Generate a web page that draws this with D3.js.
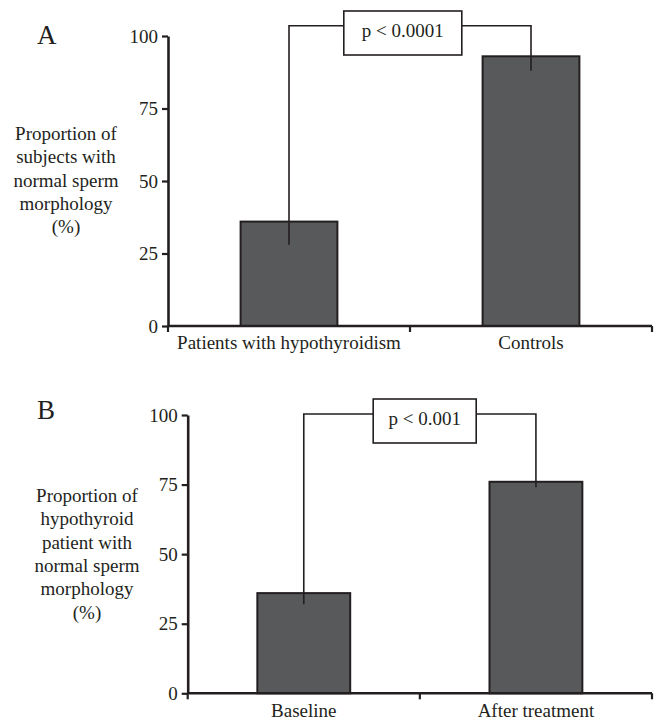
<!DOCTYPE html>
<html>
<head>
<meta charset="utf-8">
<script src="https://cdn.jsdelivr.net/npm/d3@7"></script>
<style>
  body { margin: 0; background: #fff; }
  text { font-family: "Liberation Serif", "Times New Roman", serif; fill: #231f20; }
</style>
</head>
<body>
<div id="chart"></div>
<script>
// Panel A data
var labelsA = ["Patients with hypothyroidism", "Controls"];
var valuesA = [36, 93];
var lowerA = [28, 88];
var pTextA = "p < 0.0001";
var titleA = ["Proportion of", "subjects with", "normal sperm", "morphology", "(%)"];

// Panel B data
var labelsB = ["Baseline", "After treatment"];
var valuesB = [36, 76];
var lowerB = [32, 74];
var pTextB = "p < 0.001";
var titleB = ["Proportion of", "hypothyroid", "patient with", "normal sperm", "morphology", "(%)"];

var yTicks = [0, 25, 50, 75, 100];

var width = 656;
var height = 725;
var barFill = "#58595b";
var ink = "#231f20";

var svg = d3.select("#chart")
  .append("svg")
  .attr("width", width)
  .attr("height", height);

// layout for each panel (pixel positions only)
var panels = [
  { letter: "A", labels: labelsA, values: valuesA, lower: lowerA, pText: pTextA, title: titleA,
    left: 168, right: 652, top: 36, bottom: 326, letterY: 44, titleX: 66, titleY: 140,
    bracketY: 25.7, boxX: 402.8, boxY: 11, boxW: 118, boxH: 44 },
  { letter: "B", labels: labelsB, values: valuesB, lower: lowerB, pText: pTextB, title: titleB,
    left: 187.7, right: 652, top: 415, bottom: 693.3, letterY: 419, titleX: 87, titleY: 502,
    bracketY: 414, boxX: 424.7, boxY: 399, boxW: 103, boxH: 44 }
];

panels.forEach(drawPanel);

function drawPanel(p){
  var g = svg.append("g");

  var x = d3.scaleBand()
    .domain(p.labels)
    .range([p.left, p.right])
    .paddingInner(0.6)
    .paddingOuter(0.3);

  var y = d3.scaleLinear()
    .domain([0, 100])
    .range([p.bottom, p.top]);

  // Panel letter
  g.append("text")
    .attr("x", 37)
    .attr("y", p.letterY)
    .style("font-size", "27px")
    .text(p.letter);

  // Y axis title
  g.append("text")
    .attr("text-anchor", "middle")
    .style("font-size", "19px")
    .selectAll("tspan")
    .data(p.title)
    .join("tspan")
    .attr("x", p.titleX)
    .attr("y", function(d, i){ return p.titleY + i * 23.3; })
    .text(function(d){ return d; });

  // Bars
  g.selectAll("rect.bar")
    .data(p.values)
    .join("rect")
    .attr("class", "bar")
    .attr("x", function(d, i){ return x(p.labels[i]); })
    .attr("y", function(d){ return y(d); })
    .attr("width", x.bandwidth())
    .attr("height", function(d){ return y(0) - y(d); })
    .style("fill", barFill)
    .style("stroke", ink)
    .style("stroke-width", 2);

  // Significance bracket
  var cx = p.labels.map(function(l){ return x(l) + x.bandwidth() / 2; });
  var boxL = p.boxX - p.boxW / 2;
  var boxR = p.boxX + p.boxW / 2;
  var line = d3.line();
  g.append("path")
    .attr("d", line([[cx[0], y(p.lower[0])], [cx[0], p.bracketY], [boxL, p.bracketY]]))
    .style("fill", "none").style("stroke", ink).style("stroke-width", 1.6);
  g.append("path")
    .attr("d", line([[boxR, p.bracketY], [cx[1], p.bracketY], [cx[1], y(p.lower[1])]]))
    .style("fill", "none").style("stroke", ink).style("stroke-width", 1.6);

  g.append("rect")
    .attr("x", boxL)
    .attr("y", p.boxY)
    .attr("width", p.boxW)
    .attr("height", p.boxH)
    .style("fill", "#fff")
    .style("stroke", ink)
    .style("stroke-width", 1.6);
  g.append("text")
    .attr("x", p.boxX)
    .attr("y", p.bracketY + 11)
    .attr("text-anchor", "middle")
    .style("font-size", "19px")
    .text(p.pText);

  // Y axis
  var yAxis = g.append("g")
    .attr("transform", "translate(" + p.left + ",0)")
    .call(d3.axisLeft(y).tickValues(yTicks).tickSize(6).tickSizeOuter(0).tickPadding(4));
  yAxis.select(".domain").style("stroke", ink).style("stroke-width", 2.6);
  yAxis.selectAll(".tick line").style("stroke", ink).style("stroke-width", 2.2);
  yAxis.selectAll(".tick text")
    .style("font-size", "19px")
    .style("font-family", "Liberation Serif, serif")
    .style("fill", ink);

  // X axis: labels under bars, ticks at category boundaries
  var xAxis = g.append("g")
    .attr("transform", "translate(0," + p.bottom + ")")
    .call(d3.axisBottom(x).tickSize(0).tickPadding(10));
  xAxis.select(".domain").remove();
  xAxis.selectAll(".tick text")
    .attr("dy", "0.71em")
    .style("font-size", "19px")
    .style("font-family", "Liberation Serif, serif")
    .style("fill", ink);

  g.append("line")
    .attr("x1", p.left)
    .attr("x2", p.right)
    .attr("y1", y(0))
    .attr("y2", y(0))
    .style("stroke", ink)
    .style("stroke-width", 2.6);

  var step = x.step();
  var start = x(p.labels[0]) - x.paddingInner() * step / 2;
  var bounds = d3.range(p.labels.length + 1).map(function(i){ return start + i * step; });
  g.selectAll("line.xtick")
    .data(bounds)
    .join("line")
    .attr("class", "xtick")
    .attr("x1", function(d){ return d; })
    .attr("x2", function(d){ return d; })
    .attr("y1", y(0))
    .attr("y2", y(0) + 6)
    .style("stroke", ink)
    .style("stroke-width", 2.2);
}
</script>
</body>
</html>
